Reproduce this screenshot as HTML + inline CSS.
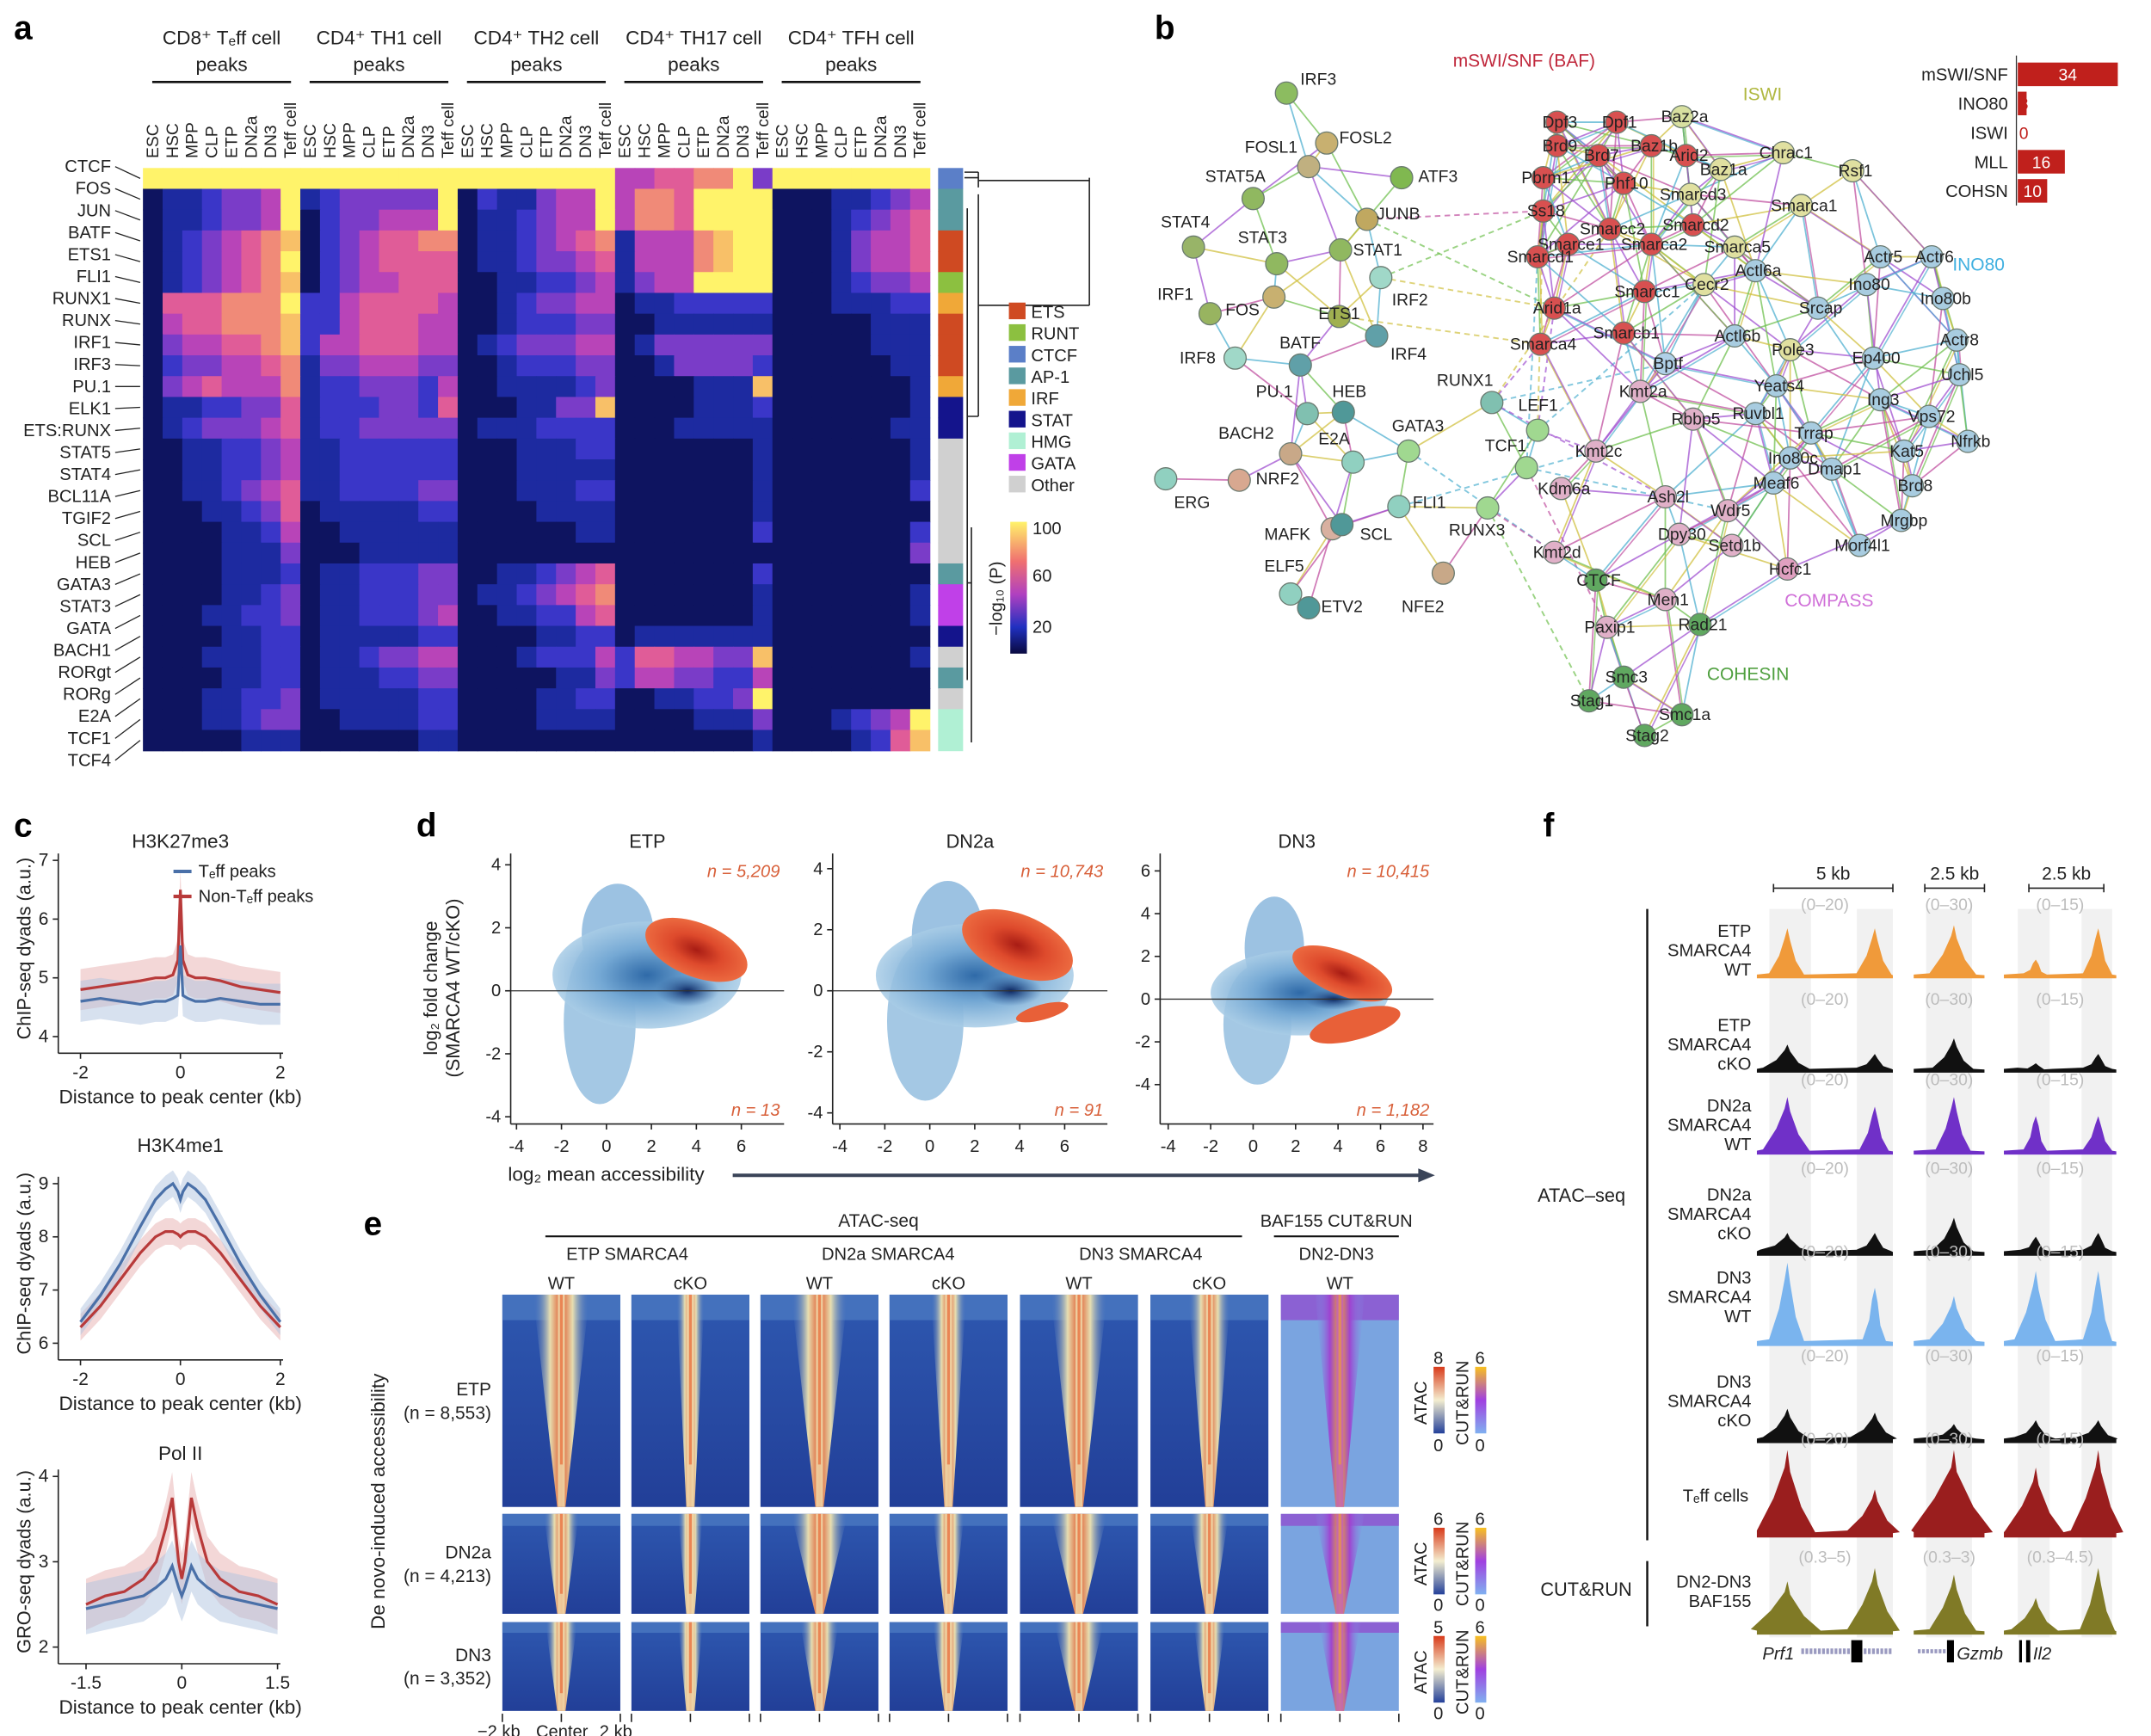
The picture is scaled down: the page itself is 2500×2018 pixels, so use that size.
<!DOCTYPE html>
<html><head><meta charset="utf-8">
<style>
html,body{margin:0;padding:0;background:#fff}
svg{display:block}
text{font-family:"Liberation Sans",sans-serif}
</style></head>
<body>
<svg id="fig" xmlns="http://www.w3.org/2000/svg" width="2500" height="2018" viewBox="0 0 1550 1251">
<defs>
<linearGradient id="cbar" x1="0" y1="1" x2="0" y2="0"><stop offset="0" stop-color="#0a0a40"/><stop offset="0.2" stop-color="#2030c0"/><stop offset="0.45" stop-color="#b040c0"/><stop offset="0.7" stop-color="#f07070"/><stop offset="1" stop-color="#fff36a"/></linearGradient>
<linearGradient id="atacbar" x1="0" y1="1" x2="0" y2="0"><stop offset="0" stop-color="#23409a"/><stop offset="0.5" stop-color="#f4eed0"/><stop offset="1" stop-color="#d83a1a"/></linearGradient>
<linearGradient id="cutbar" x1="0" y1="1" x2="0" y2="0"><stop offset="0" stop-color="#80b0f0"/><stop offset="0.5" stop-color="#a040e0"/><stop offset="1" stop-color="#f8c020"/></linearGradient>
<linearGradient id="vgrad" x1="0" y1="0" x2="1" y2="0"><stop offset="0" stop-color="#3c6ac0" stop-opacity="0"/><stop offset="0.3" stop-color="#f0e4b0"/><stop offset="0.5" stop-color="#e85a28"/><stop offset="0.7" stop-color="#f0e4b0"/><stop offset="1" stop-color="#3c6ac0" stop-opacity="0"/></linearGradient>
<linearGradient id="vgrad2" x1="0" y1="0" x2="1" y2="0"><stop offset="0" stop-color="#7aa0e8" stop-opacity="0"/><stop offset="0.3" stop-color="#a040d0"/><stop offset="0.5" stop-color="#f0a030"/><stop offset="0.7" stop-color="#a040d0"/><stop offset="1" stop-color="#7aa0e8" stop-opacity="0"/></linearGradient>
<linearGradient id="bgE" x1="0" y1="0" x2="0" y2="1"><stop offset="0" stop-color="#2e58b0"/><stop offset="1" stop-color="#223f98"/></linearGradient>
<radialGradient id="blueCloud"><stop offset="0" stop-color="#2f6aa8"/><stop offset="0.5" stop-color="#74a8d4"/><stop offset="1" stop-color="#a8cce6" stop-opacity="0.85"/></radialGradient>
<radialGradient id="orCloud"><stop offset="0" stop-color="#a81c14"/><stop offset="0.5" stop-color="#de4a2c"/><stop offset="1" stop-color="#ec6a40"/></radialGradient>
<radialGradient id="darkCore"><stop offset="0" stop-color="#0b2560"/><stop offset="1" stop-color="#2a5a98" stop-opacity="0"/></radialGradient>
</defs>
<g id="root"></g>
</svg>
<script>
const NS='http://www.w3.org/2000/svg';
const root=document.getElementById('root');
function mk(tag,attrs,name,parent){
  const el=document.createElementNS(NS,tag);
  for(const k in attrs) el.setAttribute(k,attrs[k]);
  
  
  (parent||root).appendChild(el);
  return el;
}
function tx(x,y,s,opt,name,parent){
  const o=Object.assign({x:x,y:y,'font-size':13,fill:'#222'},opt||{});
  const el=mk('text',o,name||'label',parent);
  el.textContent=s;
  return el;
}
[['a',10,28],['b',832,28],['c',10,603],['d',300,603],['e',262,890],['f',1112,603]].forEach(p=>{
  tx(p[1],p[2],p[0],{'font-size':24,'font-weight':'bold',fill:'#000'},'panel-letter-'+p[0]);
});

// ================= PANEL A =================
const hmRowLabels=['CTCF','FOS','JUN','BATF','ETS1','FLI1','RUNX1','RUNX','IRF1','IRF3','PU.1','ELK1','ETS:RUNX','STAT5','STAT4','BCL11A','TGIF2','SCL','HEB','GATA3','STAT3','GATA','BACH1','RORgt','RORg','E2A','TCF1','TCF4'];
const hmColLabels=['ESC','HSC','MPP','CLP','ETP','DN2a','DN3','Teff cell'];
const hmGroups=['CD8⁺ Tₑff cell','CD4⁺ TH1 cell','CD4⁺ TH2 cell','CD4⁺ TH17 cell','CD4⁺ TFH cell'];
const hmValues=[
'9999999999999999999999995566779499999999',
'1223445923444449132245595776999911122345',
'1223445913445559122345595776999911123456',
'1234567813456677122345672555789911124556',
'1234567913456666122344562555789911124556',
'1234567813455666112233452455999911123445',
'1666777933566665112344551223333311122233',
'1566777833566655112333441122222211111222',
'1455667835566655123444551244444411111222',
'1344556724455544112333441124444311111122',
'1456555723344435112222341111222811111112',
'1223344623334436111224481111222311111112',
'1234445623344444122233331112222211111122',
'1122334522333333111222331111111211111112',
'1122334522333333111222221111111211111112',
'1122345622333344111222331111111211111113',
'1112234612222233111122221111111211111111',
'1111223511222222111111221111111311111113',
'1111222411122222111111111111111111111114',
'1111222312233344112234561111111311111111',
'1111223412233344122345671111111211111112',
'1112233412233345112233561111111211111112',
'1111223312222233111122331222222211111111',
'1112223312234455111233353665544811111112',
'1111223312223344111112243554433511111111',
'1112233412222233111122331122334911111111',
'1112234411222233111122221111222411123459',
'1111122211111122111111111111111211112368'];
const hmFamilies=['CTCF','AP-1','AP-1','ETS','ETS','RUNT','IRF','ETS','ETS','ETS','IRF','STAT','STAT','Other','Other','Other','Other','Other','Other','AP-1','GATA','GATA','STAT','Other','AP-1','Other','HMG','HMG'];
const famNames=['ETS','RUNT','CTCF','AP-1','IRF','STAT','HMG','GATA','Other'];
const famColors={'ETS':'#cf4a22','RUNT':'#8cc040','CTCF':'#5b7fc8','AP-1':'#5a9aa0','IRF':'#f0a838','STAT':'#14148c','HMG':'#b0f0d4','GATA':'#c040e8','Other':'#d0d0d0'};
const pal=['#0a0a3c','#0e1460','#1d2aa0','#3a36c8','#7a3cc8','#b844b8','#e05c98','#f08a78','#f8c068','#fff36a'];
const hmX0=103,hmY0=121,hmW=567,hmH=420;
const cw=hmW/40,rh=hmH/hmValues.length;
const colX=i=>hmX0+i*cw, rowY=j=>hmY0+j*rh;
const gHm=mk('g',{},'heatmap-a');
hmValues.forEach((row,j)=>{
  for(let i=0;i<40;i++){
    const v=+row[i];
    mk('rect',{x:colX(i),y:rowY(j),width:cw+0.4,height:rh+0.4,fill:pal[v]},'heatmap-cell',gHm);
  }
});
hmGroups.forEach((gn,g)=>{
  const cx=colX(g*8)+cw*4;
  hmColLabels.forEach((c,i)=>{
    const x=colX(g*8+i)+cw/2+4;
    tx(x,114,c,{'font-size':12,transform:`rotate(-90 ${x} 114)`},'column-label');
  });
  tx(cx,32,gn,{'font-size':14,'text-anchor':'middle'},'group-title');
  tx(cx,51,'peaks',{'font-size':14,'text-anchor':'middle'},'group-title-peaks');
  mk('line',{x1:cx-50,x2:cx+50,y1:59,y2:59,stroke:'#111','stroke-width':1.6},'group-underline');
});
hmRowLabels.forEach((l,j)=>{
  const ly=124+j*15.85;
  tx(80,ly,l,{'font-size':12.5,'text-anchor':'end'},'row-label');
  mk('line',{x1:83,y1:ly-4,x2:101,y2:rowY(j)+rh/2,stroke:'#222','stroke-width':0.8},'row-leader');
});
hmFamilies.forEach((f,j)=>{
  mk('rect',{x:676,y:rowY(j),width:18,height:rh+0.3,fill:famColors[f]},'family-bar-cell');
});
const dg=mk('g',{stroke:'#222','stroke-width':1,fill:'none'},'dendrogram');
mk('path',{d:'M695 124 H705 M695 128 H705 M705 124 V135 M705 130 H785 M697 150 V490 M697 300 H705 M705 140 V300 M705 220 H785 M785 128 V220 M697 420 H700 M700 380 V535'},'dendrogram-lines',dg);
famNames.forEach((f,i)=>{
  const y=218+i*15.6;
  mk('rect',{x:727,y:y,width:12,height:12,fill:famColors[f]},'legend-swatch');
  tx(743,y+11,f,{'font-size':12.5},'legend-entry');
});
mk('rect',{x:728,y:376,width:12,height:95,fill:'url(#cbar)'},'colorbar-a');
tx(744,385,'100',{'font-size':12.5},'colorbar-tick');
tx(744,419,'60',{'font-size':12.5},'colorbar-tick');
tx(744,456,'20',{'font-size':12.5},'colorbar-tick');
tx(722,458,'−log₁₀ (P)',{'font-size':12.5,transform:'rotate(-90 722 458)'},'colorbar-title');

// ================= PANEL B =================
const nodes=[
['IRF3',927,67,'#8cbc60',937,61,'start'],['FOSL2',956,103,'#c8b070',965,103,'start'],['FOSL1',943,120,'#c0b080',935,110,'end'],
['ATF3',1010,128,'#80b850',1022,131,'start'],['STAT5A',903,143,'#90b860',912,131,'end'],['JUNB',985,158,'#c0a860',992,158,'start'],
['STAT4',860,178,'#98b468',872,164,'end'],['STAT3',920,190,'#90b860',892,175,'start'],['STAT1',966,180,'#90b860',975,184,'start'],
['IRF1',872,226,'#98b460',860,216,'end'],['FOS',918,214,'#c8b070',883,227,'start'],['ETS1',965,228,'#a0b050',950,230,'start'],
['IRF2',995,200,'#a0d8c8',1003,220,'start'],['IRF8',890,258,'#a0d8c8',876,262,'end'],['BATF',937,263,'#60a0a8',922,251,'start'],
['IRF4',992,242,'#60a0a8',1002,259,'start'],['PU.1',942,298,'#80c0b0',905,286,'start'],['HEB',968,297,'#509898',960,286,'start'],
['RUNX1',1075,290,'#80c0b0',1076,278,'end'],['LEF1',1108,310,'#a0d890',1094,296,'start'],['GATA3',1015,325,'#a0d890',1003,311,'start'],
['BACH2',930,327,'#c8a888',918,316,'end'],['E2A',975,333,'#90d0c0',950,320,'start'],['TCF1',1100,337,'#a0d890',1070,325,'start'],
['NRF2',893,346,'#d8a890',905,349,'start'],['ERG',840,345,'#90d0c0',846,366,'start'],['FLI1',1008,365,'#90d0c0',1018,366,'start'],
['RUNX3',1072,366,'#a0d890',1044,386,'start'],['MAFK',960,381,'#d8b0a0',911,389,'start'],['SCL',967,378,'#509898',980,389,'start'],
['ELF5',930,428,'#90d0c0',911,412,'start'],['ETV2',943,438,'#509898',952,441,'start'],['NFE2',1040,413,'#c8a888',1010,441,'start'],
['Dpf3',1122,88,'#d85050'],['Dpf1',1165,88,'#d85050'],['Baz2a',1212,84,'#d8e0a0'],['Brd9',1122,105,'#d85050'],['Brd7',1152,112,'#d85050'],
['Baz1b',1190,105,'#d85050'],['Arid2',1215,112,'#d85050'],['Pbrm1',1112,128,'#d85050'],['Phf10',1170,132,'#d85050'],['Smarcd3',1218,140,'#e0e0a0'],
['Baz1a',1240,122,'#e0e0a0'],['Ss18',1112,152,'#d85050'],['Smarcc2',1160,165,'#d85050'],['Smarcd2',1220,162,'#d85050'],['Smarce1',1130,176,'#d85050'],
['Smarca2',1190,176,'#d85050'],['Smarca5',1250,178,'#e0e0a0'],['Smarcc1',1185,210,'#d85050'],['Arid1a',1120,222,'#d85050'],['Smarca4',1110,248,'#d85050'],
['Smarcb1',1170,240,'#d85050'],['Smarcd1',1108,185,'#d85050'],['Chrac1',1285,110,'#e0e0a0'],['Rsf1',1335,123,'#e0e0a0'],['Smarca1',1298,148,'#e0e0a0'],
['Cecr2',1228,205,'#e0e0a0'],['Bptf',1200,262,'#b0d0e8'],
['Actl6a',1265,195,'#a8cce0'],['Actr5',1355,185,'#a8cce0'],['Actr6',1392,185,'#a8cce0'],['Ino80',1345,205,'#a8cce0'],['Ino80b',1400,215,'#a8cce0'],
['Srcap',1310,222,'#a8cce0'],['Actl6b',1250,242,'#a8cce0'],['Pole3',1290,252,'#e0e0a0'],['Ep400',1350,258,'#a8cce0'],['Actr8',1410,245,'#a8cce0'],
['Ruvbl1',1265,298,'#a8cce0'],['Yeats4',1280,278,'#a8cce0'],['Ing3',1355,288,'#a8cce0'],['Uchl5',1412,270,'#a8cce0'],['Trrap',1305,312,'#a8cce0'],
['Vps72',1390,300,'#a8cce0'],['Ino80c',1290,330,'#a8cce0'],['Kat5',1372,325,'#a8cce0'],['Nfrkb',1418,318,'#a8cce0'],['Dmap1',1320,338,'#a8cce0'],
['Meaf6',1278,348,'#a8cce0'],['Brd8',1378,350,'#a8cce0'],['Mrgbp',1370,375,'#a8cce0'],['Morf4l1',1340,393,'#a8cce0'],
['Kmt2a',1182,282,'#e0b0c8'],['Rbbp5',1220,302,'#e0b0c8'],['Kmt2c',1150,325,'#e0b0c8'],['Ash2l',1200,358,'#e0b0c8'],['Kdm6a',1125,352,'#e0b0c8'],
['Wdr5',1245,368,'#e0b0c8'],['Dpy30',1210,385,'#e0b0c8'],['Setd1b',1248,393,'#e0b0c8'],['Kmt2d',1120,398,'#e0b0c8'],['Hcfc1',1288,410,'#e0a0c0'],
['Men1',1200,432,'#e0b0c8'],['CTCF',1150,418,'#60a860'],['Paxip1',1158,452,'#e0b0c8'],
['Rad21',1225,450,'#60a860'],['Smc3',1170,488,'#60a860'],['Stag1',1145,505,'#60a860'],['Smc1a',1212,515,'#60a860'],['Stag2',1185,530,'#60a860']];
const edgeCols=['#a050d0','#70c050','#50b0d0','#d0c040','#c050a0'];
const gE=mk('g',{fill:'none'},'network-edges');
for(let i=0;i<nodes.length;i++){for(let j=i+1;j<nodes.length;j++){
  const a=nodes[i],b=nodes[j];const d=Math.hypot(a[1]-b[1],a[2]-b[2]);
  const same=(i<33)===(j<33);
  if(same && d<(i<33?70:90) && (i*7+j*3)%4!==0){
    mk('line',{x1:a[1],y1:a[2],x2:b[1],y2:b[2],stroke:edgeCols[(i+j)%5],'stroke-width':1.1,opacity:0.75},'network-edge',gE);
    if(i>=33 && (i+j)%2===0) mk('line',{x1:a[1]+1.5,y1:a[2]+1.5,x2:b[1]+1.5,y2:b[2]+1.5,stroke:edgeCols[(i+j+2)%5],'stroke-width':1,opacity:0.7},'network-edge',gE);
  } else if(!same && d<160 && (i+j)%7===0){
    mk('line',{x1:a[1],y1:a[2],x2:b[1],y2:b[2],stroke:edgeCols[(i+j)%5],'stroke-width':1.2,'stroke-dasharray':'4 3',opacity:0.7},'network-edge-dashed',gE);
  }
}}
nodes.forEach(n=>{
  mk('circle',{cx:n[1],cy:n[2],r:8,fill:n[3],stroke:'#6a7a70','stroke-width':0.8},'network-node-'+n[0].toLowerCase());
  if(n.length>4) tx(n[4],n[5],n[0],{'font-size':12,'text-anchor':n[6]},'node-label');
  else tx(n[1]+2,n[2]+4,n[0],{'font-size':12,'text-anchor':'middle'},'node-label');
});
tx(1047,48,'mSWI/SNF (BAF)',{'font-size':13,fill:'#c0283c'},'cluster-label-baf');
tx(1256,72,'ISWI',{'font-size':13,fill:'#b0b840'},'cluster-label-iswi');
tx(1407,195,'INO80',{'font-size':13,fill:'#40b0e0'},'cluster-label-ino80');
tx(1286,437,'COMPASS',{'font-size':13,fill:'#d070d8'},'cluster-label-compass');
tx(1230,490,'COHESIN',{'font-size':13,fill:'#50a040'},'cluster-label-cohesin');
const barCats=['mSWI/SNF','INO80','ISWI','MLL','COHSN'];
const barVals=[34,3,0,16,10];
const bx=v=>1454+v*2.12, by=i=>45+i*21;
mk('line',{x1:1453,x2:1453,y1:40,y2:148,stroke:'#333','stroke-width':0.8},'bar-axis');
barCats.forEach((c,i)=>{
  tx(1447,by(i)+13,c,{'font-size':12.5,'text-anchor':'end'},'bar-category-label');
  mk('rect',{x:1454,y:by(i),width:bx(barVals[i])-1454,height:17,fill:'#c0201c'},'bar-'+c.toLowerCase().replace('/','-'));
  tx(barVals[i]>5?(1454+bx(barVals[i]))/2:1455,by(i)+13,String(barVals[i]),{'font-size':12,fill:barVals[i]>5?'#fff':'#c0201c','text-anchor':barVals[i]>5?'middle':'start'},'bar-value');
});

// ================= PANEL C =================
const cX12=[-2,-1.6,-1.2,-0.8,-0.5,-0.3,-0.15,-0.05,0,0.05,0.15,0.3,0.5,0.8,1.2,1.6,2];
const cTeff1=[4.6,4.65,4.6,4.55,4.6,4.6,4.65,4.7,5.55,4.7,4.65,4.6,4.6,4.65,4.6,4.55,4.55];
const cNon1=[4.8,4.85,4.9,4.95,5.0,5.0,5.05,5.3,6.5,5.3,5.05,5.0,5.0,4.95,4.85,4.8,4.75];
const cTeff2=[6.4,6.9,7.5,8.2,8.7,8.9,9.0,8.85,8.7,8.85,9.0,8.9,8.7,8.2,7.5,6.9,6.4];
const cNon2=[6.3,6.7,7.2,7.7,8.0,8.1,8.1,8.05,8.0,8.05,8.1,8.1,8.0,7.7,7.2,6.7,6.3];
const cX3=[-1.5,-1.2,-0.9,-0.6,-0.4,-0.25,-0.15,-0.05,0,0.05,0.15,0.25,0.4,0.6,0.9,1.2,1.5];
const cTeff3=[2.45,2.5,2.55,2.6,2.7,2.8,2.95,2.7,2.6,2.7,2.95,2.8,2.7,2.6,2.55,2.5,2.45];
const cNon3=[2.5,2.6,2.65,2.8,3.0,3.4,3.75,3.0,2.8,3.0,3.75,3.4,3.0,2.8,2.65,2.6,2.5];
const cPlots=[
 {title:'H3K27me3',xs:cX12,t:cTeff1,n:cNon1,xmin:-2,xmax:2,xl:58,xr:202,ymin:4,ymax:7,yb:747,yt:620,yticks:[4,5,6,7],xticks:[-2,0,2],ylab:'ChIP-seq dyads (a.u.)',titleY:611,band:0.35},
 {title:'H3K4me1',xs:cX12,t:cTeff2,n:cNon2,xmin:-2,xmax:2,xl:58,xr:202,ymin:6,ymax:9,yb:968,yt:853,yticks:[6,7,8,9],xticks:[-2,0,2],ylab:'ChIP-seq dyads (a.u.)',titleY:830,band:0.25},
 {title:'Pol II',xs:cX3,t:cTeff3,n:cNon3,xmin:-1.5,xmax:1.5,xl:62,xr:200,ymin:2,ymax:4,yb:1187,yt:1064,yticks:[2,3,4],xticks:[-1.5,0,1.5],ylab:'GRO-seq dyads (a.u.)',titleY:1052,band:0.3}];
cPlots.forEach((p,k)=>{
  const g=mk('g',{},'profile-plot-'+k);
  const X=v=>p.xl+(v-p.xmin)/(p.xmax-p.xmin)*(p.xr-p.xl);
  const Y=v=>p.yb-(v-p.ymin)/(p.ymax-p.ymin)*(p.yb-p.yt);
  const axL=42;
  mk('line',{x1:axL,x2:axL,y1:p.yt-5,y2:p.yb+12,stroke:'#222'},'y-axis',g);
  mk('line',{x1:axL,x2:p.xr+2,y1:p.yb+12,y2:p.yb+12,stroke:'#222'},'x-axis',g);
  p.yticks.forEach(v=>{mk('line',{x1:axL-4,x2:axL,y1:Y(v),y2:Y(v),stroke:'#222'},'y-tick',g);tx(axL-7,Y(v)+4,String(v),{'font-size':13,'text-anchor':'end'},'y-tick-label',g);});
  p.xticks.forEach(v=>{mk('line',{x1:X(v),x2:X(v),y1:p.yb+12,y2:p.yb+16,stroke:'#222'},'x-tick',g);tx(X(v),p.yb+30,String(v),{'font-size':13,'text-anchor':'middle'},'x-tick-label',g);});
  tx(130,p.yb+48,'Distance to peak center (kb)',{'font-size':14,'text-anchor':'middle'},'x-axis-title',g);
  const yc=(p.yb+p.yt)/2;
  tx(22,yc,p.ylab,{'font-size':13.5,'text-anchor':'middle',transform:`rotate(-90 22 ${yc})`},'y-axis-title',g);
  tx(130,p.titleY,p.title,{'font-size':14,'text-anchor':'middle'},'plot-title',g);
  [['n','#b83a3a','#e8b0b0'],['t','#4a70a8','#b0c4e0']].forEach(s=>{
    const arr=p[s[0]];
    let up=arr.map((v,i)=>`${X(p.xs[i])},${Y(v+p.band)}`).join(' ');
    let dn=arr.map((v,i)=>`${X(p.xs[i])},${Y(v-p.band)}`).reverse().join(' ');
    mk('polygon',{points:up+' '+dn,fill:s[2],opacity:0.5},'series-band',g);
  });
  [['n','#b83a3a'],['t','#4a70a8']].forEach(s=>{
    mk('polyline',{points:p[s[0]].map((v,i)=>`${X(p.xs[i])},${Y(v)}`).join(' '),fill:'none',stroke:s[1],'stroke-width':2},s[0]==='t'?'line-teff-peaks':'line-non-teff-peaks',g);
  });
  if(k===0){
    mk('line',{x1:125,x2:138,y1:628,y2:628,stroke:'#4a70a8','stroke-width':2.5},'legend-line-teff');
    tx(143,632,'Tₑff peaks',{'font-size':12.5},'legend-entry-teff');
    mk('line',{x1:125,x2:138,y1:646,y2:646,stroke:'#b83a3a','stroke-width':2.5},'legend-line-non-teff');
    tx(143,650,'Non-Tₑff peaks',{'font-size':12.5},'legend-entry-non-teff');
  }
});

// ================= PANEL D =================
const dTitles=['ETP','DN2a','DN3'];
const dUpN=['n = 5,209','n = 10,743','n = 10,415'];
const dDnN=['n = 13','n = 91','n = 1,182'];
const dBlueCenter=[[1.8,0.5],[2.0,0.5],[2.2,0.3]];
const dBlueSpread=[[4.2,1.7],[4.4,1.7],[4.2,2.0]];
const dTailCenter=[[-0.3,-1.0],[-0.2,-1.0],[0.2,-1.2]];
const dTailSpread=[[1.6,2.6],[1.7,2.6],[1.6,2.8]];
const dPlumeCenter=[[0.5,1.8],[0.8,1.8],[1.0,2.4]];
const dPlumeSpread=[[1.6,1.6],[1.6,1.8],[1.4,2.4]];
const dOrangeCenter=[[4.0,1.3],[3.9,1.5],[4.2,1.2]];
const dOrangeSpread=[[2.4,0.85],[2.6,1.0],[2.5,1.0]];
const dLowOrangeCenter=[[0,0],[5.0,-0.7],[4.8,-1.2]];
const dLowOrangeSpread=[[0,0],[1.2,0.25],[2.2,0.7]];
const dCoreCenter=[[3.6,0],[3.6,0],[3.8,0]];
const dXticks=[[-4,-2,0,2,4,6],[-4,-2,0,2,4,6],[-4,-2,0,2,4,6,8]];
const dYticks=[[-4,-2,0,2,4],[-4,-2,0,2,4],[-4,-2,0,2,4,6]];
const dAxes=[{x0:437,xu:16.2,y0:714,yu:22.7,xl:368,xr:565,yt:615,yb:810},
 {x0:670,xu:16.2,y0:714,yu:22,xl:600,xr:798,yt:615,yb:810},
 {x0:903,xu:15.3,y0:720,yu:15.4,xl:836,xr:1033,yt:615,yb:810}];
dTitles.forEach((t,k)=>{
  const a=dAxes[k];const g=mk('g',{},'scatter-'+t.toLowerCase());
  const X=v=>a.x0+v*a.xu, Y=v=>a.y0-v*a.yu;
  const clip=mk('clipPath',{id:'dclip'+k},'clip',g);
  mk('rect',{x:a.xl+1,y:a.yt,width:a.xr-a.xl,height:a.yb-a.yt-1},'clip-rect',clip);
  const gc=mk('g',{'clip-path':`url(#dclip${k})`},'scatter-cloud',g);
  const tc=dTailCenter[k],ts=dTailSpread[k];
  mk('ellipse',{cx:X(tc[0]),cy:Y(tc[1]),rx:ts[0]*a.xu,ry:ts[1]*a.yu,fill:'#a4c8e4'},'points-tail',gc);
  const pc=dPlumeCenter[k],ps=dPlumeSpread[k];
  mk('ellipse',{cx:X(pc[0]),cy:Y(pc[1]),rx:ps[0]*a.xu,ry:ps[1]*a.yu,fill:'#9cc2e2'},'points-plume',gc);
  const bc=dBlueCenter[k],bs=dBlueSpread[k];
  mk('ellipse',{cx:X(bc[0]),cy:Y(bc[1]),rx:bs[0]*a.xu,ry:bs[1]*a.yu,fill:'url(#blueCloud)'},'points-nonsignificant',gc);
  const cc=dCoreCenter[k];
  mk('ellipse',{cx:X(cc[0]),cy:Y(cc[1]),rx:1.4*a.xu,ry:0.5*a.yu,fill:'url(#darkCore)'},'points-density-core',gc);
  const oc=dOrangeCenter[k],os=dOrangeSpread[k];
  mk('ellipse',{cx:X(oc[0]),cy:Y(oc[1]),rx:os[0]*a.xu,ry:os[1]*a.yu,fill:'url(#orCloud)',transform:`rotate(22 ${X(oc[0])} ${Y(oc[1])})`},'points-up-significant',gc);
  const lc=dLowOrangeCenter[k],ls=dLowOrangeSpread[k];
  if(ls[0]>0) mk('ellipse',{cx:X(lc[0]),cy:Y(lc[1]),rx:ls[0]*a.xu,ry:ls[1]*a.yu,fill:'#e86038',transform:`rotate(-15 ${X(lc[0])} ${Y(lc[1])})`},'points-down-significant',gc);
  mk('line',{x1:a.xl,x2:a.xr,y1:Y(0),y2:Y(0),stroke:'#333','stroke-width':0.8},'zero-line',g);
  mk('line',{x1:a.xl,x2:a.xl,y1:a.yt,y2:a.yb,stroke:'#222'},'y-axis',g);
  mk('line',{x1:a.xl,x2:a.xr,y1:a.yb,y2:a.yb,stroke:'#222'},'x-axis',g);
  dYticks[k].forEach(v=>{mk('line',{x1:a.xl-4,x2:a.xl,y1:Y(v),y2:Y(v),stroke:'#222'},'y-tick',g);tx(a.xl-7,Y(v)+4,String(v),{'font-size':12.5,'text-anchor':'end'},'y-tick-label',g);});
  dXticks[k].forEach(v=>{mk('line',{x1:X(v),x2:X(v),y1:a.yb,y2:a.yb+4,stroke:'#222'},'x-tick',g);tx(X(v),a.yb+20,String(v),{'font-size':12.5,'text-anchor':'middle'},'x-tick-label',g);});
  tx((a.xl+a.xr)/2,611,t,{'font-size':13.5,'text-anchor':'middle'},'plot-title',g);
  tx(a.xr-3,632,dUpN[k],{'font-size':12.5,'text-anchor':'end',fill:'#d8603a','font-style':'italic'},'n-up',g);
  tx(a.xr-3,804,dDnN[k],{'font-size':12.5,'text-anchor':'end',fill:'#d8603a','font-style':'italic'},'n-down',g);
});
tx(315,712,'log₂ fold change',{'font-size':13.5,'text-anchor':'middle',transform:'rotate(-90 315 712)'},'y-axis-title-d');
tx(331,712,'(SMARCA4 WT/cKO)',{'font-size':13.5,'text-anchor':'middle',transform:'rotate(-90 331 712)'},'y-axis-title-d2');
tx(366,851,'log₂ mean accessibility',{'font-size':14}, 'x-axis-title-d');
mk('line',{x1:528,x2:1025,y1:847,y2:847,stroke:'#3a4458','stroke-width':2.5},'arrow-shaft');
mk('polygon',{points:'1034,847 1022,842 1022,852',fill:'#3a4458'},'arrow-head');

// ================= PANEL E =================
const eCols=['ETP WT','ETP cKO','DN2a WT','DN2a cKO','DN3 WT','DN3 cKO','BAF155 WT'];
const eBlocks=['ETP','DN2a','DN3'];
const eBlockN=['(n = 8,553)','(n = 4,213)','(n = 3,352)'];
const eIntensity=[[0.8,0.4,0.8,0.5,0.8,0.6,0.7],[0.5,0.35,0.8,0.45,0.8,0.55,0.7],[0.45,0.35,0.55,0.45,0.7,0.45,0.6]];
const eScaleMax=[8,6,5];
const eColX=[362,455,548,641,735,829,923], eColW=85;
const eBlockY=[[933,1086],[1091,1163],[1169,1233]];
eBlocks.forEach((b,bi)=>{
  const [y0,y1]=eBlockY[bi];
  eCols.forEach((c,ci)=>{
    const g=mk('g',{},'heatmap-e-'+b.toLowerCase()+'-'+ci);
    const x0=eColX[ci],cx=x0+eColW/2,cut=ci===6;
    mk('rect',{x:x0,y:y0,width:eColW,height:y1-y0,fill:cut?'#7aa4e0':'url(#bgE)'},'heatmap-bg',g);
    mk('rect',{x:x0,y:y0,width:eColW,height:(y1-y0)*0.12,fill:cut?'#9050d0':'#4a78c0',opacity:0.8},'heatmap-top-band',g);
    const w=eIntensity[bi][ci]*eColW*0.6;
    mk('polygon',{points:`${cx-w/2},${y0} ${cx+w/2},${y0} ${cx+3},${y1} ${cx-3},${y1}`,fill:cut?'url(#vgrad2)':'url(#vgrad)',opacity:0.95},'heatmap-signal',g);
    mk('rect',{x:cx-2.5,y:y0,width:5,height:y1-y0,fill:cut?'#c060c0':'#f2e8b8',opacity:0.75},'heatmap-center-line',g);
    mk('rect',{x:cx-1,y:y0,width:2,height:(y1-y0)*0.8,fill:cut?'#f0a030':'#e85a28',opacity:0.6},'heatmap-center-core',g);
  });
  const yc=(y0+y1)/2;
  tx(354,yc-4,b,{'font-size':13,'text-anchor':'end'},'block-label');
  tx(354,yc+13,eBlockN[bi],{'font-size':13,'text-anchor':'end'},'block-n');
  mk('rect',{x:1033,y:y0+(bi===0?52:10),width:8,height:48,fill:'url(#atacbar)'},'colorbar-atac');
  mk('rect',{x:1063,y:y0+(bi===0?52:10),width:8,height:48,fill:'url(#cutbar)'},'colorbar-cutrun');
  tx(1033,y0+(bi===0?50:8),String(eScaleMax[bi]),{'font-size':12.5},'colorbar-max');
  tx(1063,y0+(bi===0?50:8),'6',{'font-size':12.5},'colorbar-max');
  tx(1033,y0+(bi===0?113:70),'0',{'font-size':12.5},'colorbar-min');
  tx(1063,y0+(bi===0?113:70),'0',{'font-size':12.5},'colorbar-min');
  const ly=y0+(bi===0?78:36);
  tx(1028,ly,'ATAC',{'font-size':12.5,'text-anchor':'middle',transform:`rotate(-90 1028 ${ly})`},'colorbar-title-atac');
  tx(1058,ly,'CUT&RUN',{'font-size':12.5,'text-anchor':'middle',transform:`rotate(-90 1058 ${ly})`},'colorbar-title-cutrun');
});
eColX.forEach(x=>{[0,0.5,1].forEach(f=>mk('line',{x1:x+f*eColW,x2:x+f*eColW,y1:1235,y2:1241,stroke:'#222'},'x-tick',root));});
tx(344,1252,'−2 kb',{'font-size':12.5},'x-tick-label');
tx(405,1252,'Center',{'font-size':12.5,'text-anchor':'middle'},'x-tick-label');
tx(432,1252,'2 kb',{'font-size':12.5},'x-tick-label');
tx(633,884,'ATAC-seq',{'font-size':13,'text-anchor':'middle'},'group-title-atac');
mk('line',{x1:393,x2:895,y1:891,y2:891,stroke:'#111','stroke-width':1.3},'group-line-atac');
tx(963,884,'BAF155 CUT&RUN',{'font-size':12.5,'text-anchor':'middle'},'group-title-cutrun');
mk('line',{x1:918,x2:1008,y1:891,y2:891,stroke:'#111','stroke-width':1.3},'group-line-cutrun');
[['ETP SMARCA4',452],['DN2a SMARCA4',640],['DN3 SMARCA4',822],['DN2-DN3',963]].forEach(s=>tx(s[1],908,s[0],{'font-size':12.5,'text-anchor':'middle'},'subgroup-title'));
eColX.forEach((x,i)=>tx(x+eColW/2,929,[ 'WT','cKO','WT','cKO','WT','cKO','WT'][i],{'font-size':12.5,'text-anchor':'middle'},'column-label'));
tx(277,1082,'De novo-induced accessibility',{'font-size':14,'text-anchor':'middle',transform:'rotate(-90 277 1082)'},'y-axis-title-e');

// ================= PANEL F =================
const fTracks=['ETP SMARCA4 WT','ETP SMARCA4 cKO','DN2a SMARCA4 WT','DN2a SMARCA4 cKO','DN3 SMARCA4 WT','DN3 SMARCA4 cKO','Teff cells','DN2-DN3 BAF155'];
const fColors=['#f09a3a','#111111','#7030c8','#111111','#7ab4ee','#111111','#9a1e1e','#807a26'];
const fPeakPos=[1288,1351,1408,1467,1512];
const fPeakH=[[0.8,0.8,0.85,0.3,0.8],[0.45,0.3,0.55,0.15,0.3],[0.9,0.75,0.9,0.6,0.6],[0.3,0.3,0.5,0.25,0.3],[1.0,0.7,0.6,0.9,0.9],[0.45,0.4,0.25,0.3,0.3],[1.0,0.55,1.0,0.8,1.0],[0.8,1.0,0.9,0.55,1.0]];
const fPeakW=[[6,6,8,4,5],[8,6,7,6,5],[8,5,6,4,5],[9,6,7,5,5],[6,4,8,7,5],[8,8,8,7,7],[10,9,14,10,9],[12,9,8,8,6]];
const fBase=[705,773,832,905,970,1040,1108,1178];
const fTop=[660,728,786,850,910,985,1045,1130];
const fRanges=[['(0–20)','(0–30)','(0–15)'],['(0–20)','(0–30)','(0–15)'],['(0–20)','(0–30)','(0–15)'],['(0–20)','(0–30)','(0–15)'],['(0–20)','(0–30)','(0–15)'],['(0–20)','(0–30)','(0–15)'],['(0–20)','(0–30)','(0–15)'],['(0.3–5)','(0.3–3)','(0.3–4.5)']];
const fWin=[[1266,1364],[1379,1430],[1444,1525]];
const fShade=[[1275,1305],[1338,1364],[1388,1421],[1454,1477],[1500,1522]];
fShade.forEach(s=>mk('rect',{x:s[0],y:655,width:s[1]-s[0],height:525,fill:'#f1f1f1'},'track-shade'));
[['5 kb',1278,1364],['2.5 kb',1387,1430],['2.5 kb',1462,1516]].forEach(s=>{
  mk('path',{d:`M${s[1]} 637 V643 M${s[1]} 640 H${s[2]} M${s[2]} 637 V643`,stroke:'#222',fill:'none'},'scale-bar');
  tx((s[1]+s[2])/2,634,s[0],{'font-size':13,'text-anchor':'middle'},'scale-bar-label');
});
fTracks.forEach((t,k)=>{
  const g=mk('g',{},'track-'+k);
  const base=fBase[k],H=base-fTop[k];
  const winOf=[0,0,1,2,2];
  fWin.forEach((w,wi)=>{
    let d=`M${w[0]},${base}`;
    d+=` L${w[0]},${base-H*0.06}`;
    fPeakPos.forEach((p,pi)=>{
      if(winOf[pi]!==wi) return;
      const h=fPeakH[k][pi]*H,pw=fPeakW[k][pi];
      d+=` L${p-pw*2.2},${base-H*0.08} L${p-pw},${base-h*0.45} L${p-2},${base-h*0.8} L${p},${base-h} L${p+2},${base-h*0.75} L${p+pw},${base-h*0.35} L${p+pw*2},${base-H*0.06}`;
    });
    d+=` L${w[1]},${base-H*0.05} L${w[1]},${base} Z`;
    mk('path',{d:d,fill:fColors[k]},'track-signal',g);
    tx((w[0]+w[1])/2,fTop[k]-4,fRanges[k][wi],{'font-size':12,fill:'#bdbdbd','text-anchor':'middle'},'track-range',g);
  });
});
const fLabels=[['ETP','SMARCA4','WT'],['ETP','SMARCA4','cKO'],['DN2a','SMARCA4','WT'],['DN2a','SMARCA4','cKO'],['DN3','SMARCA4','WT'],['DN3','SMARCA4','cKO']];
fLabels.forEach((l,k)=>{l.forEach((s,i)=>tx(1262,fTop[k]+15+i*14,s,{'font-size':12.5,'text-anchor':'end'},'track-label'));});
tx(1260,1082,'Tₑff cells',{'font-size':12.5,'text-anchor':'end'},'track-label');
tx(1262,1144,'DN2-DN3',{'font-size':12.5,'text-anchor':'end'},'track-label');
tx(1262,1158,'BAF155',{'font-size':12.5,'text-anchor':'end'},'track-label');
mk('line',{x1:1187,x2:1187,y1:655,y2:1110,stroke:'#111','stroke-width':1.5},'bracket-atac');
mk('line',{x1:1187,x2:1187,y1:1125,y2:1172,stroke:'#111','stroke-width':1.5},'bracket-cutrun');
tx(1108,866,'ATAC–seq',{'font-size':13.5},'assay-label-atac');
tx(1110,1150,'CUT&RUN',{'font-size':13.5},'assay-label-cutrun');
tx(1270,1196,'Prf1',{'font-size':12.5,'font-style':'italic'},'gene-label-prf1');
mk('line',{x1:1298,x2:1364,y1:1190,y2:1190,stroke:'#9a9ac0','stroke-width':4,'stroke-dasharray':'2 1'},'gene-model-prf1');
mk('rect',{x:1334,y:1182,width:8,height:16,fill:'#000'},'exon-prf1');
mk('line',{x1:1382,x2:1402,y1:1190,y2:1190,stroke:'#9a9ac0','stroke-width':3,'stroke-dasharray':'2 1'},'gene-model-gzmb');
mk('rect',{x:1403,y:1182,width:5,height:16,fill:'#000'},'exon-gzmb');
tx(1410,1196,'Gzmb',{'font-size':12.5,'font-style':'italic'},'gene-label-gzmb');
mk('rect',{x:1455,y:1182,width:2,height:16,fill:'#000'},'exon-il2');
mk('rect',{x:1460,y:1182,width:3,height:16,fill:'#000'},'exon-il2b');
tx(1465,1196,'Il2',{'font-size':12.5,'font-style':'italic'},'gene-label-il2');
</script>
</body></html>
